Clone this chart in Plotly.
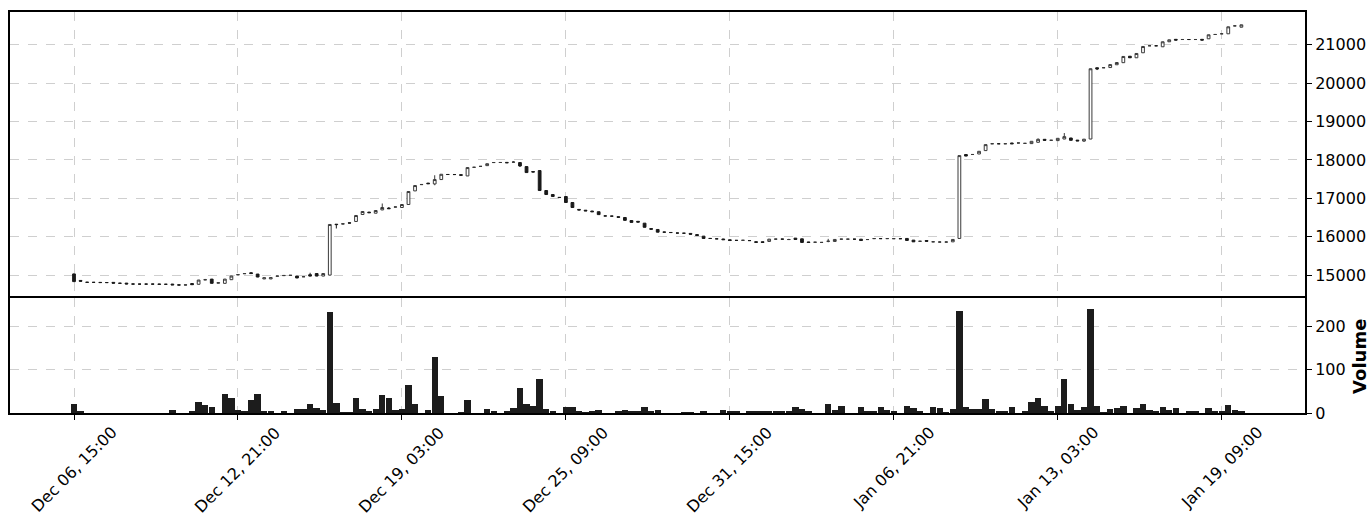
import pandas as pd
import plotly.graph_objects as go
from plotly.subplots import make_subplots

# ---------------- data (6-hour candles) ----------------
start_time = "2023-12-06 15:00"

opens = [15030, 14860, 14815, 14810, 14810, 14805, 14810, 14790, 14790, 14770,
         14765, 14765, 14765, 14765, 14760, 14765, 14745, 14740, 14780, 14760,
         14875, 14895, 14790, 14785, 14880, 15005, 15035, 15060, 15026, 14900,
         14900, 14970, 14985, 14990, 14975, 14955, 15010, 15040, 14975, 15000,
         16325, 16330, 16360, 16396, 16578, 16640, 16612, 16698, 16745, 16770,
         16760, 16838, 17192, 17355, 17395, 17374, 17488, 17620, 17620, 17615,
         17582, 17806, 17830, 17850, 17930, 17932, 17935, 17940, 17930, 17826,
         17695, 17722, 17202, 17098, 17025, 17046, 16890, 16710, 16690, 16668,
         16650, 16540, 16535, 16520, 16500, 16420, 16400, 16352, 16210, 16188,
         16120, 16110, 16095, 16090, 16085, 16055, 16014, 15955, 15945, 15940,
         15920, 15905, 15905, 15900, 15870, 15868, 15876, 15936, 15936, 15925,
         15962, 15944, 15862, 15855, 15850, 15878, 15876, 15935, 15935, 15935,
         15935, 15925, 15950, 15950, 15950, 15948, 15948, 15954, 15910, 15880,
         15900, 15866, 15860, 15860, 15866, 15954, 18140, 18140, 18154, 18242,
         18420, 18420, 18420, 18440, 18440, 18430, 18424, 18458, 18536, 18510,
         18502, 18544, 18570, 18515, 18490, 18544, 20400, 20400, 20405, 20478,
         20532, 20700, 20660, 20790, 20972, 20972, 20946, 21076, 21140, 21135,
         21135, 21135, 21140, 21154, 21266, 21284, 21284, 21490, 21456]

highs = [15040, 14870, 14820, 14815, 14815, 14810, 14815, 14795, 14795, 14775,
         14770, 14770, 14770, 14770, 14765, 14770, 14750, 14750, 14785, 14875,
         14900, 14900, 14805, 14900, 14980, 15015, 15045, 15080, 15030, 14935,
         14940, 14980, 14995, 15000, 14980, 14965, 15060, 15045, 15045, 16320,
         16330, 16340, 16365, 16555, 16660, 16645, 16685, 16864, 16770, 16780,
         16840, 17180, 17335, 17365, 17400, 17600, 17630, 17625, 17625, 17620,
         17805, 17812, 17835, 17905, 17935, 17937, 17940, 17970, 17935, 17830,
         17700, 17725, 17205, 17100, 17030, 17050, 16895, 16715, 16695, 16672,
         16655, 16545, 16540, 16525, 16505, 16425, 16405, 16355, 16215, 16190,
         16125, 16115, 16100, 16095, 16090, 16060, 16018, 15960, 15950, 15945,
         15925, 15910, 15910, 15905, 15875, 15872, 15940, 15942, 15942, 15945,
         15966, 15948, 15865, 15860, 15855, 15944, 15932, 15940, 15940, 15940,
         15940, 15930, 15955, 15955, 15955, 15960, 15953, 15958, 15914, 15885,
         15904, 15880, 15875, 15875, 15932, 18115, 18144, 18145, 18228, 18402,
         18425, 18425, 18425, 18444, 18445, 18435, 18488, 18560, 18540, 18515,
         18566, 18700, 18574, 18519, 18544, 20378, 20404, 20405, 20486, 20540,
         20698, 20704, 20776, 20958, 20977, 20977, 21080, 21132, 21144, 21140,
         21140, 21140, 21144, 21262, 21271, 21289, 21470, 21510, 21522]

lows = [14820, 14830, 14805, 14805, 14800, 14800, 14785, 14780, 14760, 14760,
        14760, 14760, 14760, 14755, 14755, 14740, 14735, 14735, 14745, 14755,
        14870, 14780, 14785, 14780, 14875, 15000, 15030, 15035, 14945, 14895,
        14895, 14965, 14980, 14985, 14920, 14950, 14970, 14970, 14970, 14990,
        16214, 16325, 16350, 16390, 16575, 16620, 16610, 16690, 16725, 16765,
        16755, 16835, 17190, 17350, 17375, 17340, 17485, 17615, 17615, 17595,
        17580, 17800, 17825, 17848, 17925, 17927, 17920, 17935, 17815, 17665,
        17680, 17200, 17095, 17042, 17015, 16885, 16755, 16690, 16670, 16645,
        16570, 16535, 16530, 16500, 16420, 16370, 16375, 16240, 16190, 16115,
        16112, 16105, 16090, 16085, 16060, 16025, 15950, 15950, 15940, 15920,
        15895, 15900, 15902, 15895, 15848, 15846, 15872, 15930, 15930, 15920,
        15925, 15846, 15846, 15850, 15845, 15855, 15872, 15930, 15930, 15930,
        15896, 15920, 15945, 15945, 15945, 15943, 15943, 15898, 15862, 15875,
        15876, 15860, 15850, 15852, 15860, 15950, 18096, 18135, 18150, 18238,
        18415, 18415, 18415, 18416, 18435, 18425, 18420, 18454, 18506, 18505,
        18498, 18540, 18506, 18491, 18470, 18540, 20340, 20395, 20401, 20474,
        20528, 20656, 20656, 20786, 20967, 20967, 20942, 21072, 21116, 21130,
        21130, 21130, 21116, 21150, 21261, 21279, 21280, 21485, 21452]

closes = [14830, 14840, 14810, 14810, 14805, 14805, 14790, 14785, 14770, 14765,
          14765, 14765, 14765, 14760, 14760, 14745, 14740, 14745, 14750, 14870,
          14880, 14785, 14800, 14895, 14975, 15012, 15040, 15040, 14950, 14930,
          14935, 14975, 14990, 14995, 14925, 14958, 14975, 14975, 15040, 16318,
          16315, 16335, 16355, 16552, 16656, 16625, 16682, 16760, 16730, 16775,
          16838, 17176, 17332, 17360, 17380, 17488, 17626, 17620, 17618, 17600,
          17800, 17808, 17832, 17900, 17932, 17933, 17925, 17942, 17842, 17670,
          17685, 17202, 17098, 17046, 17020, 16890, 16760, 16695, 16672, 16650,
          16575, 16540, 16535, 16505, 16425, 16372, 16380, 16245, 16195, 16118,
          16118, 16108, 16095, 16090, 16065, 16030, 15954, 15953, 15944, 15922,
          15900, 15903, 15906, 15898, 15852, 15850, 15936, 15937, 15936, 15926,
          15928, 15850, 15850, 15856, 15851, 15882, 15928, 15936, 15936, 15935,
          15900, 15926, 15951, 15950, 15951, 15949, 15948, 15902, 15866, 15881,
          15880, 15867, 15861, 15861, 15928, 18112, 18100, 18141, 18224, 18398,
          18421, 18420, 18421, 18420, 18441, 18431, 18484, 18536, 18510, 18511,
          18562, 18606, 18510, 18495, 18540, 20374, 20370, 20401, 20482, 20536,
          20694, 20660, 20772, 20954, 20973, 20972, 21076, 21128, 21120, 21136,
          21135, 21136, 21120, 21258, 21267, 21285, 21466, 21491, 21518]

volumes = [21, 3, 0, 0, 0, 0, 0, 0, 0, 0,
           0, 0, 0, 0, 0, 8, 0, 0, 3, 26,
           19, 14, 0, 44, 35, 8, 5, 29, 44, 5,
           5, 0, 5, 0, 10, 10, 21, 12, 8, 233,
           24, 2, 2, 35, 10, 5, 10, 42, 35, 8,
           10, 65, 21, 0, 8, 129, 40, 0, 0, 2,
           31, 0, 0, 10, 3, 0, 5, 12, 58, 21,
           17, 79, 10, 5, 0, 14, 14, 5, 1, 3,
           8, 0, 0, 3, 8, 5, 5, 14, 3, 8,
           0, 0, 0, 2, 2, 0, 5, 0, 0, 8,
           5, 5, 0, 4, 4, 4, 4, 4, 4, 4,
           14, 10, 5, 0, 0, 21, 8, 17, 0, 0,
           14, 3, 3, 14, 8, 3, 0, 17, 12, 3,
           0, 14, 12, 1, 10, 235, 14, 10, 10, 33,
           10, 5, 5, 14, 0, 3, 26, 35, 17, 3,
           17, 79, 21, 8, 14, 240, 17, 1, 10, 12,
           17, 0, 12, 21, 8, 3, 14, 8, 12, 0,
           5, 3, 0, 12, 3, 3, 19, 8, 5]

tick_labels = ["Dec 06, 15:00", "Dec 12, 21:00", "Dec 19, 03:00", "Dec 25, 09:00",
               "Dec 31, 15:00", "Jan 06, 21:00", "Jan 13, 03:00", "Jan 19, 09:00"]
price_ticks = [15000, 16000, 17000, 18000, 19000, 20000, 21000]
volume_ticks = [0, 100, 200]

n = len(opens)
assert len(highs) == n and len(lows) == n and len(closes) == n and len(volumes) == n

dates = pd.date_range(start_time, periods=n, freq="6h")
step = pd.Timedelta(hours=6)
tick_vals = [dates[i] for i in range(0, n, 25)][:len(tick_labels)]
x_range = [dates[0] - step * 9.76, dates[-1] + step * 9.7]

FONT = "DejaVu Sans"
GRID = "#cfcfcf"

fig = make_subplots(rows=2, cols=1, shared_xaxes=True, vertical_spacing=0,
                    row_heights=[286, 115])

fig.add_trace(go.Candlestick(
    x=dates, open=opens, high=highs, low=lows, close=closes,
    increasing=dict(fillcolor="white", line=dict(color="#3a3a3a", width=1)),
    decreasing=dict(fillcolor="#1a1a1a", line=dict(color="#1a1a1a", width=1)),
    whiskerwidth=0, showlegend=False,
), row=1, col=1)

fig.add_trace(go.Bar(
    x=dates, y=volumes, marker=dict(color="#1c1c1c", line=dict(width=0)),
    width=step.total_seconds() * 1000 * 0.97, showlegend=False,
), row=2, col=1)

axis_common = dict(showline=True, linewidth=2, linecolor="black",
                   showgrid=True, gridcolor=GRID, griddash="dash", gridwidth=1,
                   zeroline=False, automargin=False,
                   tickfont=dict(family=FONT, size=16, color="black"))

fig.update_xaxes(range=x_range, tickvals=tick_vals, ticktext=tick_labels,
                 rangeslider_visible=False, showticklabels=False, **axis_common)
# price panel: frame line only on top (separator drawn once by volume panel)
fig.update_xaxes(ticks="", side="top", mirror=False, row=1, col=1)
fig.update_xaxes(ticks="outside", ticklen=5, tickwidth=1, tickcolor="black",
                 mirror=True, row=2, col=1)

fig.update_yaxes(side="right", ticks="outside", ticklen=5, tickwidth=1, mirror=True,
                 tickcolor="black", tickformat="d", **axis_common)
fig.update_yaxes(range=[14403, 21852], tickvals=price_ticks, row=1, col=1)
fig.update_yaxes(range=[0, 265], tickvals=volume_ticks, row=2, col=1)

# rotated x tick labels, centred on each tick (matplotlib style)
for tv, tl in zip(tick_vals, tick_labels):
    fig.add_annotation(text=tl, x=tv, xref="x2", y=0, yref="paper", yshift=-7,
                       textangle=-45, showarrow=False, xanchor="center", yanchor="top",
                       font=dict(family=FONT, size=16, color="black"))

fig.add_annotation(text="<b>Volume</b>", xref="paper", yref="paper",
                   x=1.0425, y=0.14, textangle=-90, showarrow=False,
                   font=dict(family=FONT, size=18, color="black"),
                   xanchor="center", yanchor="middle")

fig.update_layout(width=1369, height=518, plot_bgcolor="white", paper_bgcolor="white",
                  margin=dict(l=10, r=64, t=12, b=105, autoexpand=False), boxgap=0.4,
                  font=dict(family=FONT, size=16, color="black"), bargap=0)

fig.write_html("out.html", config={"displayModeBar": False},
               post_script="document.body.style.margin='0px';")
